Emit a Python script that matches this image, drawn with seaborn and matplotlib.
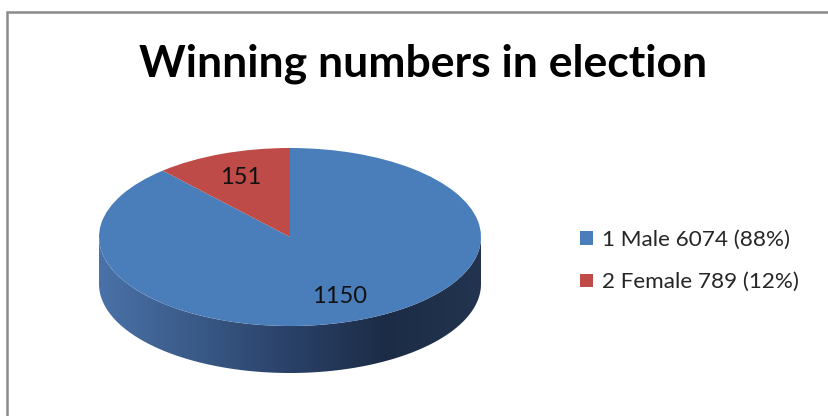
import numpy as np
import matplotlib
matplotlib.use("Agg")
import matplotlib.pyplot as plt
import seaborn as sns
from matplotlib.colors import LinearSegmentedColormap
from matplotlib.patches import Polygon, Rectangle

# data
labels = ["1 Male 6074 (88%)", "2 Female 789 (12%)"]
values = [1150, 151]
colors = ["#4a7ebb", "#be4b48"]
title = "Winning numbers in election"

sns.set_style("white")
plt.rcParams['font.family'] = ['Lato', 'DejaVu Sans']

fig = plt.figure(figsize=(8.29, 4.16), dpi=100)
ax = fig.add_axes([0, 0, 1, 1])

# pie in unit coords, y squashed to fake a 3d tilt
# pixel mapping: px = 290 + 191*x ; py = 237 - 89*y
depth = 47 / 89
total = sum(values)
wedges, texts, autotexts = ax.pie(
    values, colors=colors, startangle=90, counterclock=False,
    autopct=lambda p: f"{round(p * total / 100)}", pctdistance=0.72,
    wedgeprops=dict(linewidth=0), textprops=dict(fontsize=17, color="#111111"),
)
for w in wedges:
    w.set_zorder(3)
for t in autotexts:
    t.set_zorder(4)

# side wall (front half only)
t = np.linspace(np.pi, 2 * np.pi, 200)
top = np.column_stack([np.cos(t), np.sin(t)])
bot = np.column_stack([np.cos(t[::-1]), np.sin(t[::-1]) - depth])
side = Polygon(np.vstack([top, bot]), closed=True, facecolor="none", edgecolor="none")
ax.add_patch(side)
side_cmap = LinearSegmentedColormap.from_list(
    "side", ["#4a72a8", "#3a5a88", "#2a4168", "#1c2c46", "#22344f"])
grad = np.linspace(0, 1, 256).reshape(1, -1)
img = ax.imshow(grad, cmap=side_cmap, extent=(-1, 1, -1 - depth, 0),
                aspect="auto", zorder=1, origin="lower")
img.set_clip_path(side)

ax.set_xlim(-290 / 191, (829 - 290) / 191)
ax.set_ylim(-(416 - 237) / 89, 237 / 89)
ax.set_aspect("auto")
ax.axis("off")

fig.text(423 / 829, 1 - 64 / 416, title, ha="center", va="center",
         fontsize=32, fontweight="bold", color="black")

fig.legend(wedges, labels, loc="center left", bbox_to_anchor=(560 / 829, 1 - 261 / 416),
           frameon=False, fontsize=16.2, handlelength=0.55, handleheight=0.55,
           handletextpad=0.4, labelspacing=1.0)

# outer chart border
fig.patches.append(Rectangle((7 / 829, -0.1), 1.2, 1 - 12 / 416 + 0.1,
                             transform=fig.transFigure, fill=False,
                             edgecolor="#8a8a8a", linewidth=1.8))

fig.savefig("out.png", dpi=100)
